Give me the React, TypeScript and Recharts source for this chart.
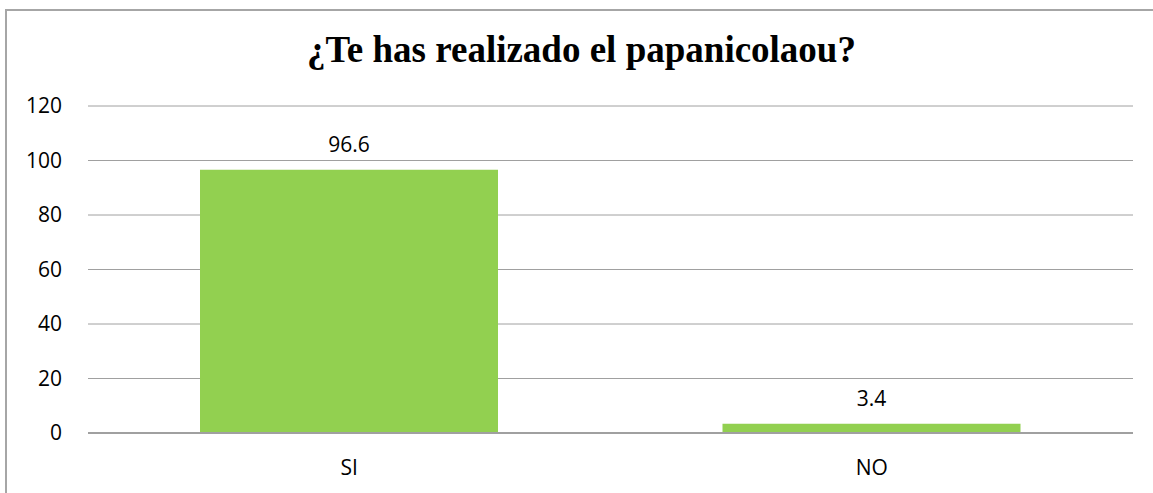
import React from 'react';
import { BarChart, Bar, XAxis, YAxis, CartesianGrid, LabelList } from 'recharts';

const categories = ['SI', 'NO'];
const values = [96.6, 3.4];
const yTicks = [0, 20, 40, 60, 80, 100, 120];
const title = '¿Te has realizado el papanicolaou?';

const data = categories.map((c, i) => ({ name: c, value: values[i] }));

const font = '"Open Sans", sans-serif';

export default function App() {
  return (
    <div style={{ position: 'absolute', left: 0, top: 0, width: 1153, height: 493, overflow: 'hidden', background: '#fff' }}>
      <div style={{ position: 'absolute', left: 5, top: 9, width: 1300, height: 700, border: '2px solid #A6A6A6', boxSizing: 'border-box' }} />
      <div style={{ position: 'absolute', left: 5, top: 30, width: 1153, textAlign: 'center', fontFamily: '"Liberation Serif", "Times New Roman", serif', fontWeight: 'bold', fontSize: 37, lineHeight: '40px', color: '#000', whiteSpace: 'nowrap' }}>
        {title}
      </div>
      <div style={{ position: 'absolute', left: 0, top: 0 }}>
        <BarChart width={1153} height={493} data={data} margin={{ top: 106, right: 20, bottom: 0, left: 0 }}>
          <CartesianGrid vertical={false} stroke="#A0A0A0" strokeWidth={1} />
          <XAxis dataKey="name" height={60} tickSize={0} tickMargin={27} axisLine={{ stroke: '#A0A0A0', strokeWidth: 2 }} tick={{ fill: '#000', fontSize: 21, fontFamily: font }} />
          <YAxis width={88} domain={[0, 120]} ticks={yTicks} tickSize={0} tickMargin={26} axisLine={false} tick={{ fill: '#000', fontSize: 21, fontFamily: font }} />
          <Bar dataKey="value" fill="#92D050" barSize={298} isAnimationActive={false}>
            <LabelList dataKey="value" position="top" offset={18} style={{ fill: '#000', fontSize: 21, fontFamily: font }} />
          </Bar>
        </BarChart>
      </div>
    </div>
  );
}
